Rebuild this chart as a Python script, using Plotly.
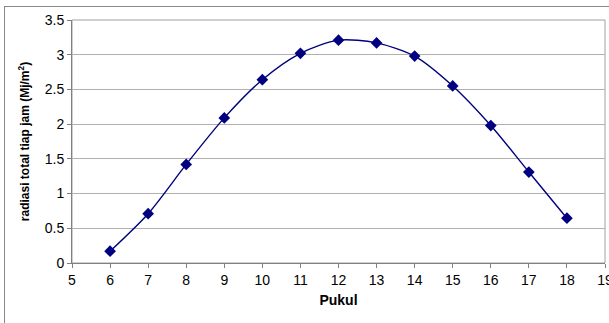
import plotly.graph_objects as go

hours = [6, 7, 8, 9, 10, 11, 12, 13, 14, 15, 16, 17, 18]
radiation = [0.17, 0.71, 1.42, 2.09, 2.64, 3.02, 3.21, 3.17, 2.98, 2.55, 1.98, 1.31, 0.645]
x_ticks = list(range(5, 20))
y_ticks = [0, 0.5, 1, 1.5, 2, 2.5, 3, 3.5]
y_tick_labels = ["0", "0.5", "1", "1.5", "2", "2.5", "3", "3.5"]

navy = "#000080"
font = "Liberation Sans, Arial, sans-serif"

fig = go.Figure()
fig.add_trace(go.Scatter(
    x=hours, y=radiation, mode="lines+markers",
    line=dict(color=navy, width=1.4, shape="spline", smoothing=0.8),
    marker=dict(symbol="diamond", size=9, color=navy),
    showlegend=False,
))

fig.update_layout(
    width=609, height=323,
    margin=dict(l=72, r=4, t=20, b=60),
    paper_bgcolor="white", plot_bgcolor="white",
    font=dict(family=font, color="black", size=14),
    xaxis=dict(
        range=[5, 19], tickvals=x_ticks, ticktext=[str(v) for v in x_ticks],
        showgrid=False, zeroline=False, automargin=False,
        showline=True, linecolor="#808080", linewidth=1,
        ticks="outside", ticklen=4, tickcolor="#808080",
        tickfont=dict(size=14), ticklabeloverflow="allow",
        title=dict(text="<b>Pukul</b>", font=dict(size=14), standoff=8),
    ),
    yaxis=dict(
        range=[0, 3.5], tickvals=y_ticks, ticktext=y_tick_labels,
        showgrid=True, gridcolor="#b0b0b0", gridwidth=1, zeroline=False, automargin=False,
        showline=True, linecolor="#808080", linewidth=1,
        ticks="outside", ticklen=4, tickcolor="#808080",
        tickfont=dict(size=14), ticklabeloverflow="allow",
        title=dict(text="<b>radiasi total tiap jam (Mj/m<sup>2</sup>)</b>", font=dict(size=12), standoff=12),
    ),
    shapes=[
        dict(type="rect", xref="paper", yref="paper", x0=0, x1=1, y0=0, y1=1,
             line=dict(color="#a0a0a0", width=1), layer="below"),
    ],
)

post = (
    "document.body.style.margin='0';document.body.style.overflow='hidden';"
    "var d=document.createElement('div');"
    "d.style.cssText='position:absolute;left:4px;top:6px;width:700px;height:400px;"
    "border-left:1px solid #888888;border-top:1px solid #888888;pointer-events:none;z-index:10;';"
    "document.body.appendChild(d);"
)
fig.write_html("out.html", config={"displayModeBar": False}, post_script=post)
